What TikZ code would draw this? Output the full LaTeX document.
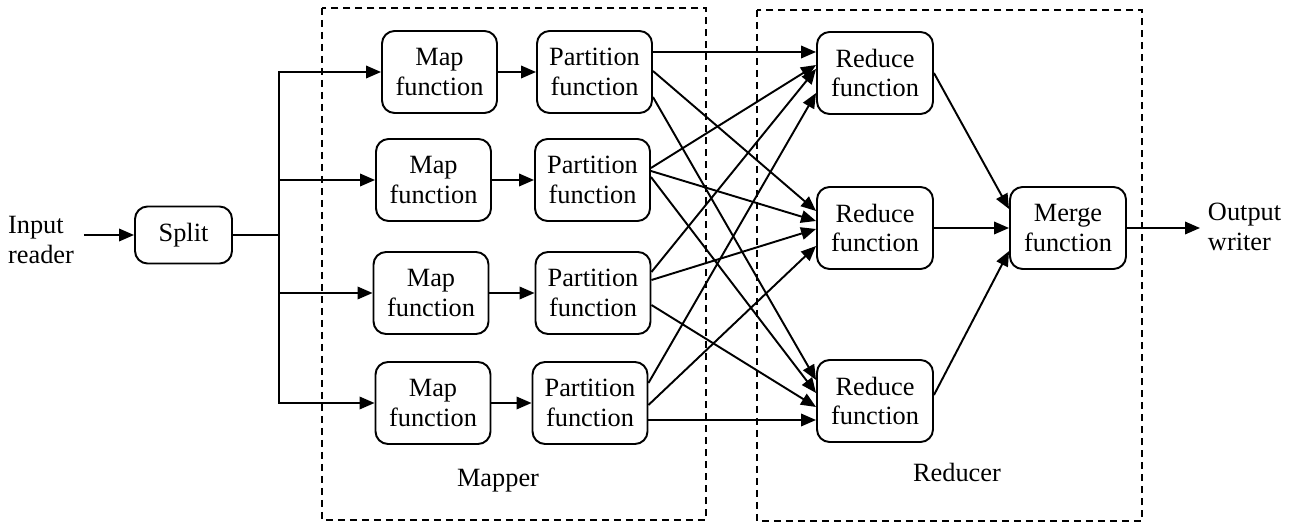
\documentclass[tikz,border=0pt]{standalone}
\usepackage{fontspec}
\setmainfont{Liberation Serif}
\usetikzlibrary{calc, arrows.meta}

\begin{document}
\begin{tikzpicture}[x=0.02cm, y=-0.02cm, >={Triangle[length=0.3cm, width=0.25cm]},
  font=\fontsize{15}{17}\selectfont, line width=1.1pt,
  fbox/.style={draw, rounded corners=0.25cm, align=center, inner sep=0pt,
    minimum width=2.3cm, minimum height=1.64cm},
  region/.style={dash pattern=on 0.14cm off 0.1cm, line width=1.1pt}]
  \useasboundingbox (0,0) rectangle (1291,523);
  % Mapper and Reducer regions
  \draw[region] (322,8) rectangle (706,520);
  \draw[region] (757,10) rectangle (1142,521);
  \node (mapper) at (498,481) {Mapper};
  \node (reducer) at (957,472) {Reducer};
  % Input and split
  \node[align=left, inner sep=0pt] (input) at (41,240) {Input\\reader};
  \node[fbox, minimum width=1.94cm, minimum height=1.14cm] (split) at (183.5,235) {Split};
  \draw[->, shorten <=0.18cm] (split.west -| input.east) -- (split.west);
  \coordinate (fork) at (279,235);
  \draw (split.east) -- (fork);
  % Map and partition
  \foreach \i/\xm/\xp/\y in {1/439.5/594.5/72, 2/433.5/592.5/180, 3/431/593/293, 4/433/590/403} {
    \node[fbox] (map\i) at (\xm,\y) {Map\\function};
    \node[fbox] (part\i) at (\xp,\y) {Partition\\function};
    \draw[->] (fork) |- (map\i.west);
    \draw[->] (map\i) -- (part\i);
  }
  % Reduce and merge
  \foreach \j/\y in {1/73, 2/228, 3/401}
    \node[fbox, minimum width=2.32cm] (red\j) at (875,\y) {Reduce\\function};
  \node[fbox, minimum width=2.32cm] (merge) at (1068,228) {Merge\\function};
  \foreach \i/\j/\s/\e in {1/1/-20/-21, 1/2/-1/-17, 1/3/25/-21, 2/1/-12/-8, 2/2/-9/-7, 2/3/-3/-8,
                           3/1/-21/-4, 3/2/-13/1, 3/3/12/6, 4/1/-20/20, 4/2/2/18, 4/3/17/19}
    \draw[->] ($(part\i.east)+(0,\s)$) -- ($(red\j.west)+(0,\e)$);
  \draw[->] (red1.east) -- ($(merge.west)+(0,-19)$);
  \draw[->] (red2.east) -- (merge.west);
  \draw[->] ($(red3.east)+(0,-6)$) -- ($(merge.west)+(0,23)$);
  % Output
  \node[align=left, inner sep=0pt, anchor=west] (output) at (1207,227) {Output\\writer};
  \draw[->, shorten >=0.14cm] (merge.east) -- (merge.east -| output.west);
\end{tikzpicture}
\end{document}
